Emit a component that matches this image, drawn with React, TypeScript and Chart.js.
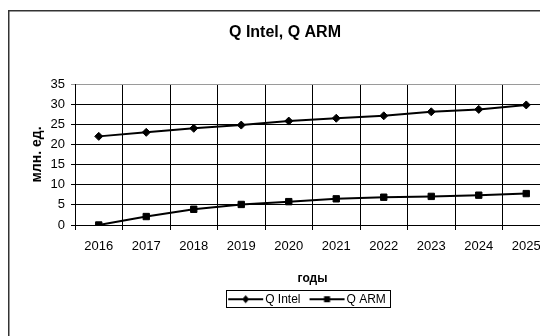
import React, { useEffect, useRef } from 'react';
import { Chart, registerables } from 'chart.js';

Chart.register(...registerables);

const years = ['2016', '2017', '2018', '2019', '2020', '2021', '2022', '2023', '2024', '2025'];
const qIntel = [22, 23, 24, 24.8, 25.8, 26.5, 27.1, 28.1, 28.7, 29.8];
const qArm = [0, 2.1, 3.9, 5.1, 5.8, 6.5, 6.9, 7.1, 7.4, 7.8];
const yMin = 0;
const yMax = 35;
const yStep = 5;
const chartTitle = 'Q Intel, Q ARM';
const yTitle = 'млн. ед.';
const xTitle = 'годы';
const seriesNames = ['Q Intel', 'Q ARM'];

const FONT = "'Liberation Sans', Arial, sans-serif";
const CW = 570;
const CH = 335;
const BOXW = 20; // legend pointStyleWidth

function makeLegendSymbol(kind: 'diamond' | 'square'): HTMLCanvasElement {
  const c = document.createElement('canvas');
  c.width = 44;
  c.height = 12;
  const g = c.getContext('2d')!;
  g.fillStyle = '#000';
  g.fillRect(1, 5, 35, 2);
  const cx = 18.5;
  const cy = 6;
  if (kind === 'diamond') {
    g.beginPath();
    g.moveTo(cx, cy - 4);
    g.lineTo(cx + 3.5, cy);
    g.lineTo(cx, cy + 4);
    g.lineTo(cx - 3.5, cy);
    g.closePath();
    g.fill();
  } else {
    g.fillRect(cx - 3, cy - 3, 6, 6);
  }
  return c;
}

const framePlugin = {
  id: 'frame',
  afterDraw(chart: any) {
    const ctx = chart.ctx;
    ctx.save();
    ctx.strokeStyle = '#333';
    ctx.lineWidth = 1.5;
    ctx.strokeRect(0.75, 0.75, chart.width - 1.5, chart.height - 1.5);
    const lg = chart.legend;
    const hb = lg && lg.legendHitBoxes;
    if (hb && hb.length) {
      const first = hb[0];
      const last = hb[hb.length - 1];
      const left = Math.round(first.left + BOXW - 31 - 2);
      const right = Math.round(last.left + last.width + 4);
      const top = Math.round(first.top - 3);
      const bottom = Math.round(first.top + first.height + 2);
      ctx.strokeStyle = '#000';
      ctx.lineWidth = 1;
      ctx.strokeRect(left + 0.5, top + 0.5, right - left, bottom - top);
    }
    ctx.restore();
  },
};

export default function App() {
  const ref = useRef<HTMLCanvasElement | null>(null);

  useEffect(() => {
    if (!ref.current) return;
    const symbols = [makeLegendSymbol('diamond'), makeLegendSymbol('square')];
    const chart = new Chart(ref.current, {
      type: 'line',
      data: {
        labels: years,
        datasets: [
          {
            label: seriesNames[0],
            data: qIntel,
            borderColor: '#000',
            backgroundColor: '#000',
            borderWidth: 2,
            pointStyle: 'rectRot',
            pointRadius: 4,
            pointBackgroundColor: '#000',
            pointBorderColor: '#000',
            pointBorderWidth: 1,
            tension: 0,
            fill: false,
          },
          {
            label: seriesNames[1],
            data: qArm,
            borderColor: '#000',
            backgroundColor: '#000',
            borderWidth: 2,
            pointStyle: 'rect',
            pointRadius: 4.5,
            pointBackgroundColor: '#000',
            pointBorderColor: '#000',
            pointBorderWidth: 1,
            tension: 0,
            fill: false,
          },
        ],
      },
      options: {
        animation: false,
        responsive: false,
        maintainAspectRatio: false,
        layout: { padding: { left: 12, right: 28, top: 0, bottom: 29.8 } },
        plugins: {
          title: {
            display: true,
            text: chartTitle,
            color: '#000',
            font: { family: FONT, size: 16, weight: 'bold' },
            padding: { top: 12.9, bottom: 41.9 },
          },
          legend: {
            display: true,
            position: 'bottom',
            fullSize: false,
            labels: {
              color: '#000',
              font: { family: FONT, size: 12 },
              usePointStyle: true,
              pointStyleWidth: BOXW,
              padding: 20,
              generateLabels: (ch: any) =>
                ch.data.datasets.map((ds: any, i: number) => ({
                  text: ds.label,
                  pointStyle: symbols[i],
                  fillStyle: '#000',
                  strokeStyle: '#000',
                  lineWidth: 0,
                  hidden: false,
                  datasetIndex: i,
                  fontColor: '#000',
                })),
            },
          },
          tooltip: { enabled: false },
        },
        scales: {
          x: {
            type: 'category',
            offset: true,
            grid: {
              offset: true,
              color: '#000',
              lineWidth: 1,
              tickLength: 5,
              drawTicks: true,
            },
            border: { color: '#000', width: 1 },
            ticks: {
              color: '#000',
              font: { family: FONT, size: 13 },
              padding: 9,
              maxRotation: 0,
              autoSkip: false,
            },
            title: {
              display: true,
              text: xTitle,
              color: '#000',
              font: { family: FONT, size: 12, weight: 'bold' },
              padding: { top: 0, bottom: -12.3 },
            },
            afterFit: (s: any) => {
              s.height = 48.2;
            },
          },
          y: {
            min: yMin,
            max: yMax,
            grid: {
              color: (c: any) => (c.tick && c.tick.value === yMax ? '#9a9a9a' : '#000'),
              lineWidth: 1,
              tickLength: 4,
            },
            border: { color: '#000', width: 1 },
            ticks: {
              stepSize: yStep,
              color: '#000',
              font: { family: FONT, size: 13 },
              padding: 6,
            },
            title: {
              display: true,
              text: yTitle,
              color: '#000',
              font: { family: FONT, size: 14, weight: 'bold' },
              padding: { top: 9, bottom: 0 },
            },
            afterFit: (s: any) => {
              s.width = 55;
            },
          },
        },
      },
      plugins: [framePlugin],
    } as any);
    return () => chart.destroy();
  }, []);

  return (
    <div style={{ width: 540, height: 328, overflow: 'hidden' }}>
      <canvas
        ref={ref}
        width={CW}
        height={CH}
        style={{ display: 'block', width: CW, height: CH, marginTop: 2 }}
      />
    </div>
  );
}
